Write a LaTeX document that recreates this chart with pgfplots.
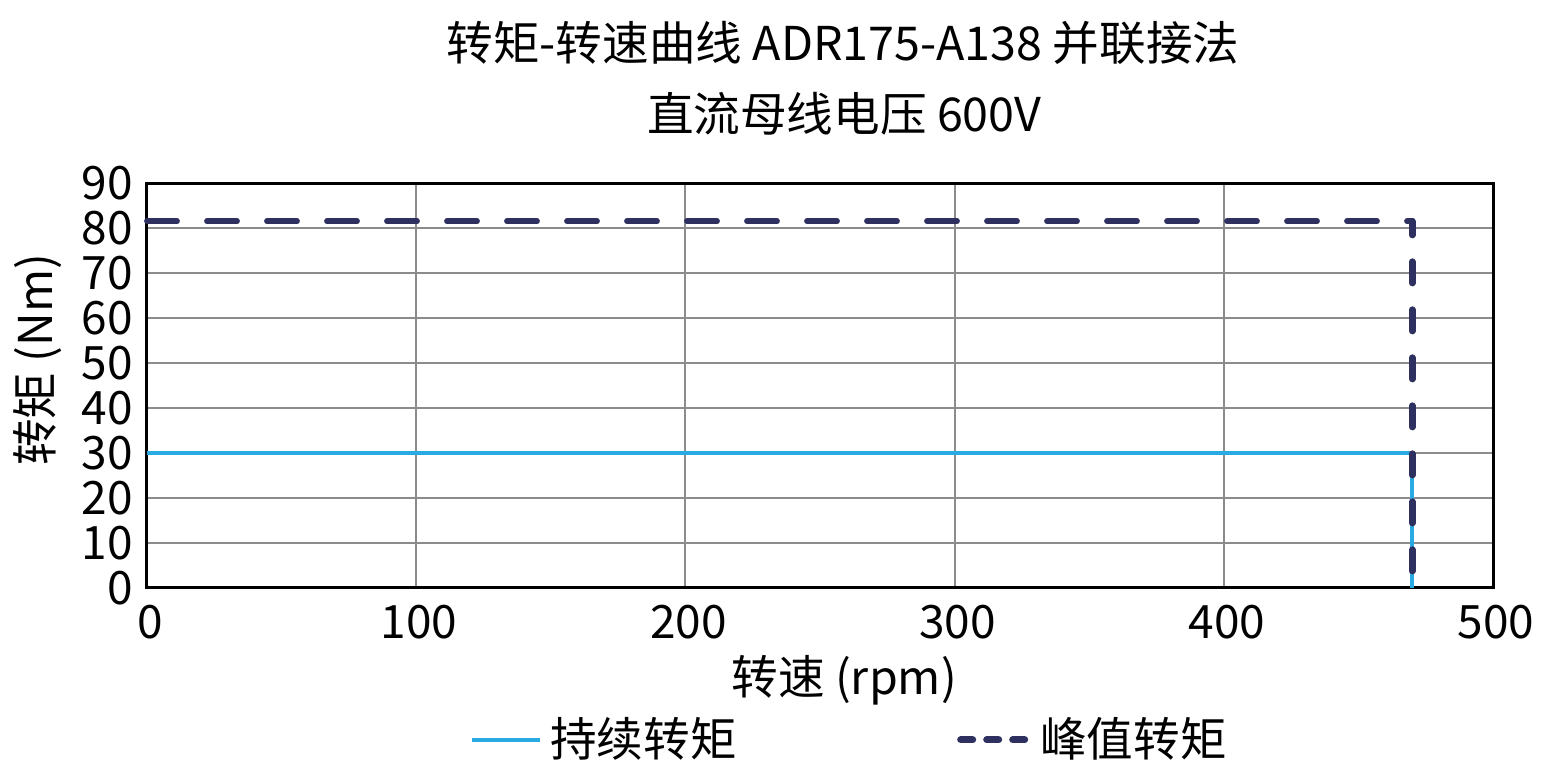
\documentclass[border=0pt]{standalone}
\usepackage{fontspec}
\setmainfont{Noto Sans CJK SC}
\usepackage{pgfplots}
\pgfplotsset{compat=1.18}
\definecolor{contcyan}{HTML}{29ABE2}
\definecolor{peaknavy}{HTML}{2E3160}
\definecolor{gridgray}{HTML}{8C8C8C}
\newcommand{\chartfont}{\fontsize{23.3}{28}\selectfont}
\newcommand{\tickfont}{\fontsize{23}{27}\selectfont}
\begin{document}
\begin{tikzpicture}
\begin{axis}[
    name=ax,
    scale only axis,
    width=673pt,
    height=202.5pt,
    xmin=0, xmax=500,
    ymin=0, ymax=90,
    xtick={0,100,200,300,400,500},
    ytick={0,10,20,30,40,50,60,70,80,90},
    tick style={draw=none},
    xmajorgrids=true,
    ymajorgrids=true,
    grid style={gridgray, line width=1pt},
    axis line style={black, line width=1.5pt},
    ticklabel style={font=\tickfont},
    /pgf/number format/assume math mode=true,
    xticklabel style={yshift=-5pt, xshift=1.5pt},
    yticklabel style={xshift=-3.5pt},
    clip=false,
]
% continuous torque
\addplot[contcyan, line width=2pt, line join=miter] coordinates {
    (0,30) (470,30) (470,0)
};
% peak torque (horizontal part, then the drop)
\addplot[peaknavy, line width=2.9pt, line cap=round, dash pattern=on 15pt off 15pt] coordinates {
    (0,81.5) (470,81.5)
};
\addplot[peaknavy, line width=3.3pt, line cap=round, dash pattern=on 10.7pt off 13.3pt, dash phase=3.8pt] coordinates {
    (470,81.5) (470,0)
};
\node at (rel axis cs:0.517,1.346) {\chartfont 转矩-转速曲线 ADR175-A138 并联接法};
\node at (rel axis cs:0.518,1.170) {\chartfont 直流母线电压 600V};
\node at (rel axis cs:0.518,-0.227) {\chartfont 转速 (rpm)};
\node[rotate=90] at (rel axis cs:-0.081,0.563) {\chartfont 转矩 (Nm)};
% legend
\draw[contcyan, line width=2pt] (rel axis cs:0.2415,-0.375) -- (rel axis cs:0.292,-0.375);
\node[anchor=west, inner sep=0pt] at (rel axis cs:0.2994,-0.372) {\chartfont 持续转矩};
\draw[peaknavy, line width=3.5pt, line cap=round, dash pattern=on 6pt off 7pt] (rel axis cs:0.6045,-0.375) -- (rel axis cs:0.655,-0.375);
\node[anchor=west, inner sep=0pt] at (rel axis cs:0.6634,-0.372) {\chartfont 峰值转矩};
\end{axis}
\pgfresetboundingbox
\path[use as bounding box] ([shift={(-73.5pt,-98pt)}]ax.south west) rectangle ([shift={(36pt,91.5pt)}]ax.north east);
\end{tikzpicture}
\end{document}
